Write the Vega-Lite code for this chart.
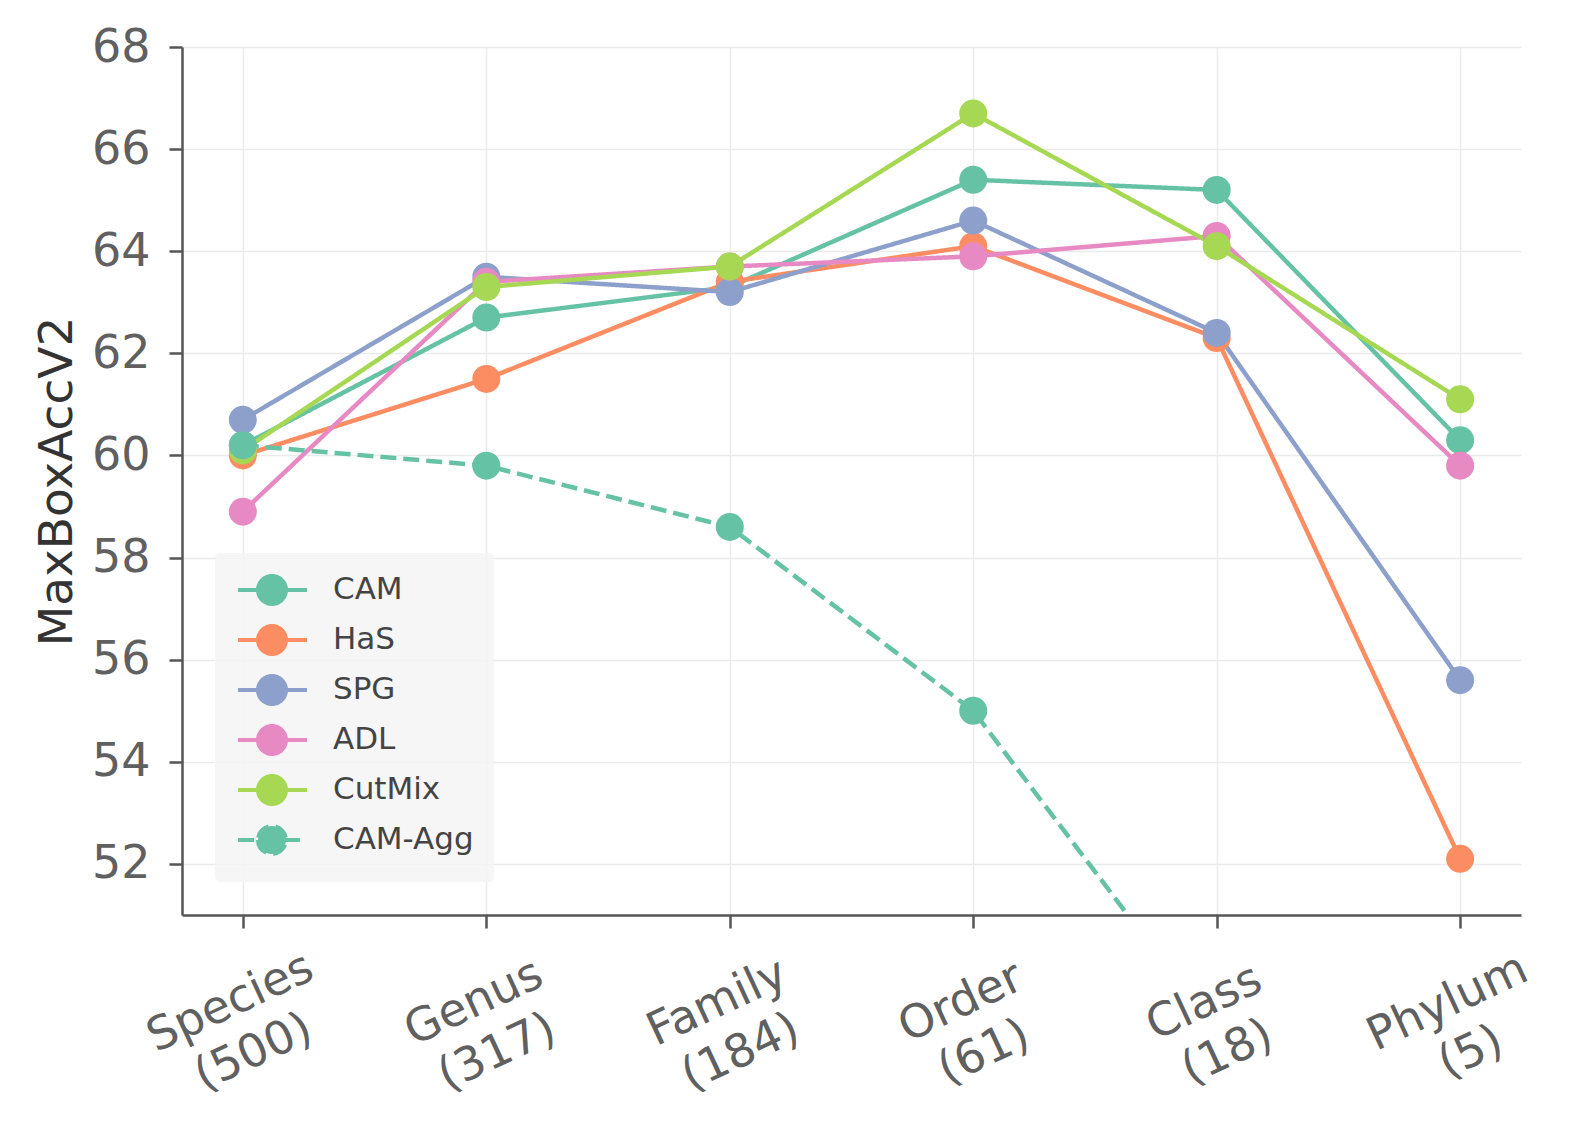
{
  "$schema": "https://vega.github.io/schema/vega-lite/v6.json",
  "width": 1339,
  "height": 868,
  "autosize": "none",
  "padding": {"left": 182, "top": 47, "right": 69, "bottom": 228},
  "background": "white",
  "config": {
    "font": "DejaVu Sans",
    "view": {"stroke": null},
    "axis": {
      "domainColor": "#555555",
      "domainWidth": 2.5,
      "tickColor": "#555555",
      "tickWidth": 2.5,
      "tickSize": 13,
      "gridColor": "#ebebeb",
      "gridWidth": 1.5,
      "labelColor": "#606060",
      "labelFont": "DejaVu Sans",
      "labelFontSize": 46,
      "titleFont": "DejaVu Sans",
      "titleFontWeight": "normal",
      "titleColor": "#333333"
    },
    "legend": {
      "title": null,
      "orient": "bottom-left",
      "offset": 33,
      "padding": 20,
      "fillColor": "rgba(245,245,245,0.85)",
      "cornerRadius": 5,
      "symbolType": "M-0.933,0L3.667,0M0.4,0A0.933,0.933,0,1,0,2.266,0A0.933,0.933,0,1,0,0.4,0Z",
      "symbolSize": 900,
      "symbolStrokeWidth": 4,
      "rowPadding": 6,
      "labelOffset": 64,
      "labelFontSize": 31,
      "labelColor": "#444444",
      "labelFont": "DejaVu Sans"
    }
  },
  "data": {
    "values": [
      {"level": "Species\n(500)", "method": "CAM", "acc": 60.2},
      {"level": "Genus\n(317)", "method": "CAM", "acc": 62.7},
      {"level": "Family\n(184)", "method": "CAM", "acc": 63.3},
      {"level": "Order\n(61)", "method": "CAM", "acc": 65.4},
      {"level": "Class\n(18)", "method": "CAM", "acc": 65.2},
      {"level": "Phylum\n(5)", "method": "CAM", "acc": 60.3},
      {"level": "Species\n(500)", "method": "HaS", "acc": 60.0},
      {"level": "Genus\n(317)", "method": "HaS", "acc": 61.5},
      {"level": "Family\n(184)", "method": "HaS", "acc": 63.4},
      {"level": "Order\n(61)", "method": "HaS", "acc": 64.1},
      {"level": "Class\n(18)", "method": "HaS", "acc": 62.3},
      {"level": "Phylum\n(5)", "method": "HaS", "acc": 52.1},
      {"level": "Species\n(500)", "method": "SPG", "acc": 60.7},
      {"level": "Genus\n(317)", "method": "SPG", "acc": 63.5},
      {"level": "Family\n(184)", "method": "SPG", "acc": 63.2},
      {"level": "Order\n(61)", "method": "SPG", "acc": 64.6},
      {"level": "Class\n(18)", "method": "SPG", "acc": 62.4},
      {"level": "Phylum\n(5)", "method": "SPG", "acc": 55.6},
      {"level": "Species\n(500)", "method": "ADL", "acc": 58.9},
      {"level": "Genus\n(317)", "method": "ADL", "acc": 63.4},
      {"level": "Family\n(184)", "method": "ADL", "acc": 63.7},
      {"level": "Order\n(61)", "method": "ADL", "acc": 63.9},
      {"level": "Class\n(18)", "method": "ADL", "acc": 64.3},
      {"level": "Phylum\n(5)", "method": "ADL", "acc": 59.8},
      {"level": "Species\n(500)", "method": "CutMix", "acc": 60.1},
      {"level": "Genus\n(317)", "method": "CutMix", "acc": 63.3},
      {"level": "Family\n(184)", "method": "CutMix", "acc": 63.7},
      {"level": "Order\n(61)", "method": "CutMix", "acc": 66.7},
      {"level": "Class\n(18)", "method": "CutMix", "acc": 64.1},
      {"level": "Phylum\n(5)", "method": "CutMix", "acc": 61.1},
      {"level": "Species\n(500)", "method": "CAM-Agg", "acc": 60.2},
      {"level": "Genus\n(317)", "method": "CAM-Agg", "acc": 59.8},
      {"level": "Family\n(184)", "method": "CAM-Agg", "acc": 58.6},
      {"level": "Order\n(61)", "method": "CAM-Agg", "acc": 55.0},
      {"level": "Class\n(18)", "method": "CAM-Agg", "acc": 48.7}
    ]
  },
  "encoding": {
    "x": {
      "field": "level",
      "type": "ordinal",
      "sort": ["Species\n(500)", "Genus\n(317)", "Family\n(184)", "Order\n(61)", "Class\n(18)", "Phylum\n(5)"],
      "scale": {"type": "point", "padding": 0.25},
      "axis": {
        "title": null,
        "grid": true,
        "labelAngle": -25,
        "labelAlign": "center",
        "labelBaseline": "middle",
        "labelPadding": 74,
        "labelOffset": -13,
        "labelLineHeight": 55,
        "labelOverlap": false,
        "labelBound": false,
        "labelExpr": "split(datum.label, '\\n')"
      }
    },
    "y": {
      "field": "acc",
      "type": "quantitative",
      "scale": {"domain": [51, 68], "nice": false, "zero": false},
      "axis": {
        "title": "MaxBoxAccV2",
        "titleFontSize": 47,
        "titlePadding": 10,
        "values": [52, 54, 56, 58, 60, 62, 64, 66, 68],
        "labelPadding": 19,
        "grid": true
      }
    },
    "color": {
      "field": "method",
      "type": "nominal",
      "sort": ["CAM", "HaS", "SPG", "ADL", "CutMix", "CAM-Agg"],
      "scale": {
        "domain": ["CAM", "HaS", "SPG", "ADL", "CutMix", "CAM-Agg"],
        "range": ["#66c2a5", "#fc8d62", "#8da0cb", "#e78ac3", "#a6d854", "#66c2a5"]
      },
      "legend": {
        "encode": {
          "symbols": {"update": {"fill": {"scale": "color", "field": "value"}, "opacity": {"value": 1}}}
        }
      }
    }
  },
  "layer": [
    {
      "mark": {"type": "line", "strokeWidth": 4.5, "clip": true},
      "encoding": {
        "strokeDash": {
          "field": "method",
          "type": "nominal",
          "sort": ["CAM", "HaS", "SPG", "ADL", "CutMix", "CAM-Agg"],
          "scale": {
            "domain": ["CAM", "HaS", "SPG", "ADL", "CutMix", "CAM-Agg"],
            "range": [[1, 0], [1, 0], [1, 0], [1, 0], [1, 0], [16, 7]]
          },
          "legend": {
            "encode": {
              "symbols": {"update": {"fill": {"scale": "color", "field": "value"}, "opacity": {"value": 1}}}
            }
          }
        }
      }
    },
    {
      "mark": {"type": "point", "shape": "circle", "filled": true, "size": 784, "opacity": 1, "clip": true},
      "encoding": {}
    }
  ]
}
